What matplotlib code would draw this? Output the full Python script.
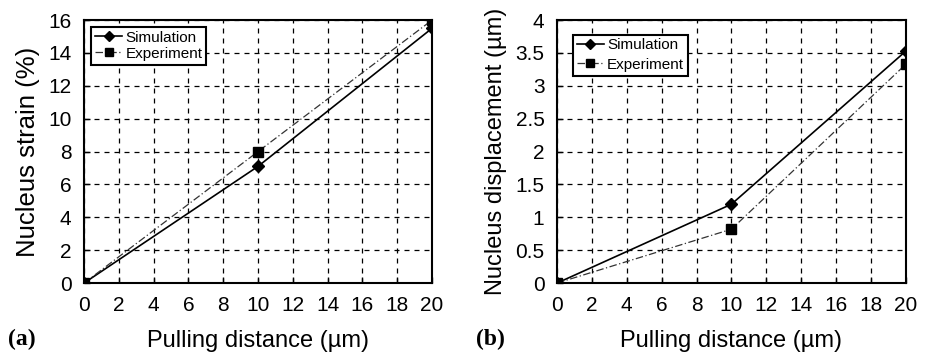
import matplotlib

matplotlib.use("Agg")
import matplotlib.pyplot as plt

# pulling distance (um)
distance = [0, 10, 20]

# (a) nucleus strain (%)
strain_sim = [0, 7.1, 15.5]
strain_exp = [0, 8.0, 16.0]

# (b) nucleus displacement (um)
disp_sim = [0, 1.2, 3.53]
disp_exp = [0, 0.82, 3.33]

x_ticks = list(range(0, 21, 2))

plt.rcParams.update({
    "font.family": ["Liberation Sans", "DejaVu Sans"],
    "axes.linewidth": 1.5,
})

fig = plt.figure(figsize=(9.28, 3.53), dpi=100)
ax_a = fig.add_axes([0.0905, 0.198, 0.375, 0.745])
ax_b = fig.add_axes([0.6002, 0.198, 0.376, 0.745])


def draw_panel(ax, sim, exp, ymax, ystep, ylabel, ylabel_size, yfmt, legend_anchor, spacing):
    ax.plot(distance, sim, color="black", lw=1.2, marker="D", ms=6.5,
            label="Simulation", zorder=3)
    ax.plot(distance, exp, color="#333333", lw=0.9, ls=(0, (6, 2, 1, 2)),
            marker="s", ms=6.5, mfc="black", mec="black", label="Experiment", zorder=3)
    ax.set_xlim(0, 20)
    ax.set_ylim(0, ymax)
    ax.set_xticks(x_ticks)
    yt = [i * ystep for i in range(int(round(ymax / ystep)) + 1)]
    ax.set_yticks(yt)
    ax.set_yticklabels([yfmt(v) for v in yt])
    ax.tick_params(direction="in", length=4, width=1, labelsize=15)
    ax.tick_params(axis="x", pad=9)
    ax.tick_params(axis="y", pad=9)
    ax.grid(True, color="black", lw=0.9, ls=(0, (4, 4)))
    ax.set_axisbelow(True)
    ax.set_xlabel("Pulling distance (µm)", fontsize=17, labelpad=11)
    ax.set_ylabel(ylabel, fontsize=ylabel_size, labelpad=6)
    for spine in ax.spines.values():
        spine.set_linewidth(1.5)
    leg = ax.legend(loc="upper left", bbox_to_anchor=legend_anchor, fontsize=11,
                    frameon=True, fancybox=False, framealpha=1, edgecolor="black",
                    borderpad=0.25, labelspacing=spacing, handlelength=1.8,
                    handletextpad=0.2, borderaxespad=0)
    leg.get_frame().set_linewidth(1.5)
    for line in leg.get_lines():
        line.set_markersize(5.5)


def fmt_a(v):
    return f"{v:.0f}"


def fmt_b(v):
    return f"{v:g}"


draw_panel(ax_a, strain_sim, strain_exp, 16, 2, "Nucleus strain (%)", 18.5,
           fmt_a, (0.02, 0.975), 0.15)
draw_panel(ax_b, disp_sim, disp_exp, 4, 0.5, "Nucleus displacement (µm)", 17,
           fmt_b, (0.045, 0.945), 0.35)

fig.text(0.009, 0.022, "(a)", fontsize=17, fontweight="bold", family="Liberation Serif")
fig.text(0.513, 0.022, "(b)", fontsize=17, fontweight="bold", family="Liberation Serif")

fig.savefig("out.png", dpi=100)
